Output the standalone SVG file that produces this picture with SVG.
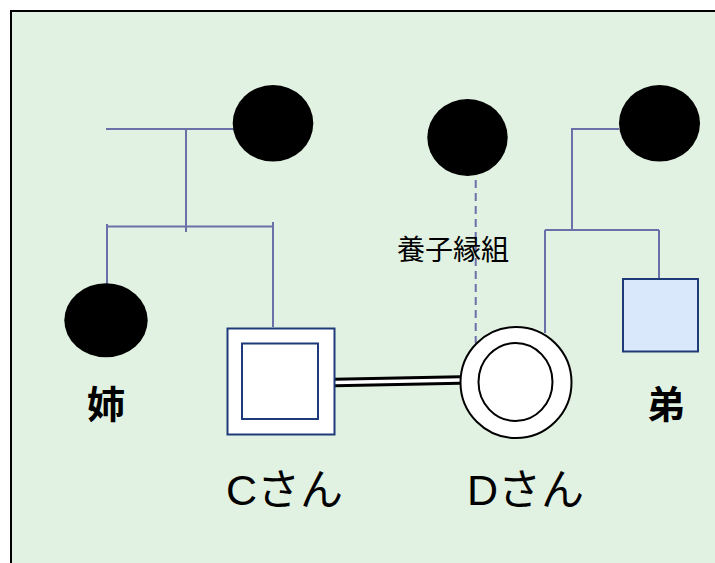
<svg xmlns="http://www.w3.org/2000/svg" width="715" height="563" viewBox="0 0 715 563">
  <style>
    .ln { stroke: #6a70a8; stroke-width: 2; fill: none; }
    .dash { stroke: #6a70a8; stroke-width: 2; fill: none; stroke-dasharray: 8 5; }
    .blk { fill: #000; }
    .sq { stroke: #1f3a78; stroke-width: 2; }
    .cj { font-family: "Noto Sans CJK JP", "Noto Sans", sans-serif; fill: #000; }
    .nm { font-family: "Liberation Sans", "Noto Sans CJK JP", sans-serif; font-size: 43px; fill: #000; }
    .kana { font-family: "Noto Sans CJK JP", sans-serif; }
  </style>
  <rect x="0" y="0" width="715" height="563" fill="#ffffff"/>
  <rect x="11" y="11" width="720" height="570" fill="#e2f2e2" stroke="#000" stroke-width="2"/>

  <g id="connectors">
    <path class="ln" d="M106,129 H234 M186,129 V232 M107,226.5 H273 M107,224 V285 M273,222 V327"/>
    <path class="ln" d="M619,129 H572 V230 M545,230 H659 M545,230 V333 M659,230 V279"/>
    <path class="dash" d="M475.7,180 V343"/>
    <path d="M335,382.5 L460,380" stroke="#000" stroke-width="9.5" fill="none"/>
    <path d="M335,382.5 L460,380" stroke="#ffffff" stroke-width="3.5" fill="none"/>
  </g>

  <g id="grandmother-left"><ellipse class="blk" cx="273" cy="123.3" rx="40.3" ry="38.3"/></g>
  <g id="adoptive-mother"><ellipse class="blk" cx="467.5" cy="137.5" rx="40.2" ry="38.5"/></g>
  <g id="grandmother-right"><ellipse class="blk" cx="659.5" cy="123.3" rx="40.5" ry="38.3"/></g>

  <g id="sister">
    <ellipse class="blk" cx="106" cy="320.3" rx="41.7" ry="37"/>
    <text class="cj" x="106" y="418" font-size="38" font-weight="bold" text-anchor="middle">姉</text>
  </g>

  <g id="person-c">
    <rect class="sq" x="227.5" y="328.5" width="107" height="106" fill="#ffffff"/>
    <rect class="sq" x="242" y="343.5" width="76" height="75.5" fill="#ffffff"/>
    <text class="nm" x="226" y="505">C<tspan class="kana">さん</tspan></text>
  </g>

  <g id="person-d">
    <circle cx="516" cy="382.5" r="55.5" fill="#ffffff" stroke="#000" stroke-width="2"/>
    <ellipse cx="515.5" cy="382" rx="37" ry="39" fill="#ffffff" stroke="#000" stroke-width="2"/>
    <text class="nm" x="467" y="505">D<tspan class="kana">さん</tspan></text>
  </g>

  <g id="brother">
    <rect class="sq" x="623" y="279" width="75" height="72.5" fill="#dae8fc"/>
    <text class="cj" x="666" y="418" font-size="38" font-weight="bold" text-anchor="middle">弟</text>
  </g>

  <g id="adoption-label">
    <text class="cj" x="453" y="260" font-size="28" text-anchor="middle">養子縁組</text>
  </g>
</svg>
